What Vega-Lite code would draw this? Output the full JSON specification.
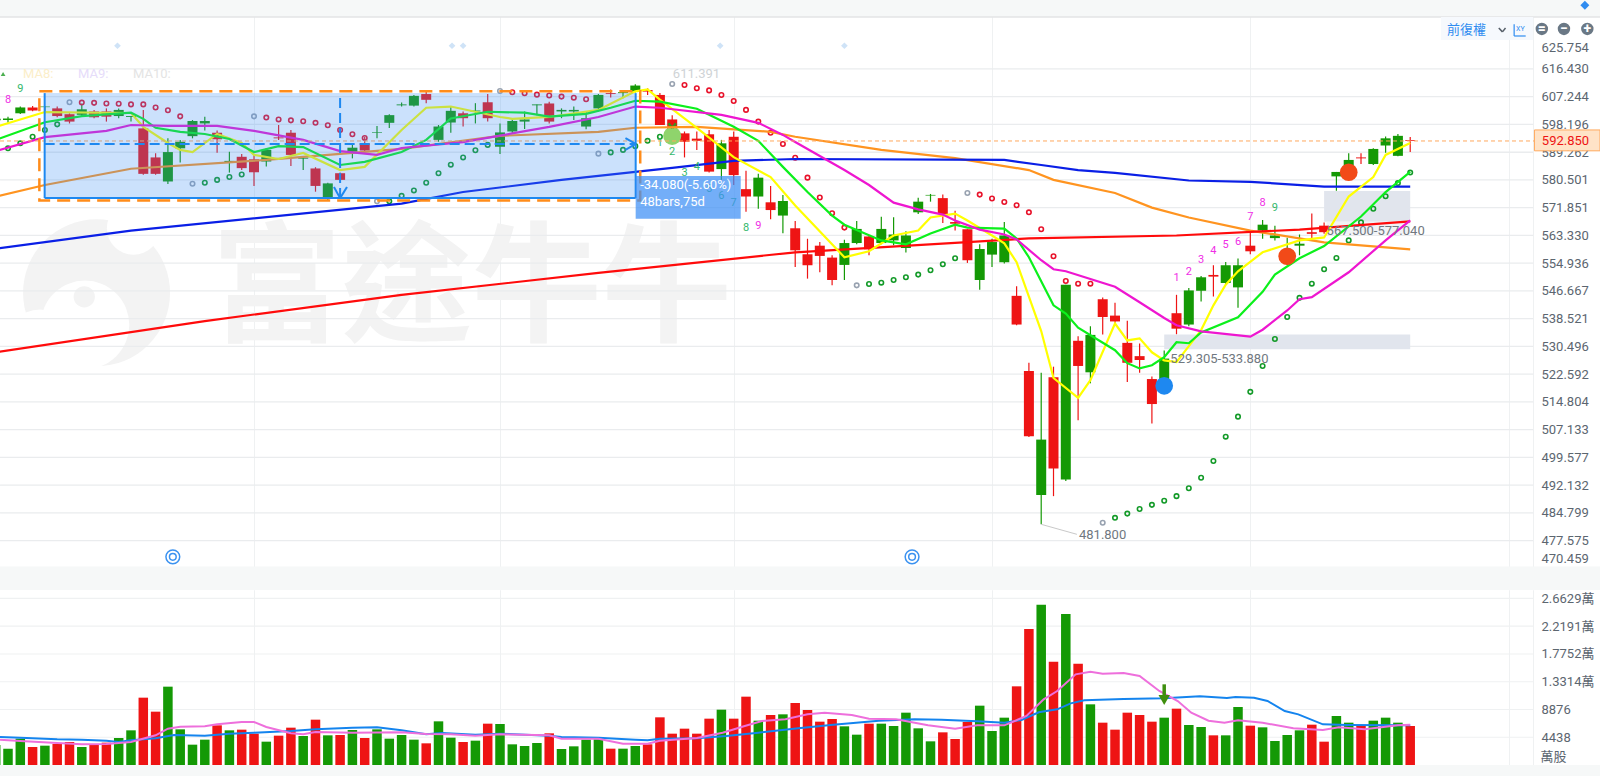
{"$schema":"https://vega.github.io/schema/vega-lite/v6.json","padding":0,"spacing":0,"background":"#ffffff","config":{"view":{"stroke":null},"text":{"font":"Roboto"},"axis":{"labelFont":"Roboto, 'Noto Sans CJK TC'"}},
"datasets":{
"candles":[
{"i":-1,"dir":"G","open":599.5,"high":600.5,"low":599,"close":600,"volume":3198},
{"i":0,"dir":"G","open":599.6,"high":600.7,"low":598.7,"close":600.1,"volume":2612},
{"i":1,"dir":"G","open":601.8,"high":604,"low":601.6,"close":603.7,"volume":4211},
{"i":2,"dir":"R","open":603.7,"high":604.2,"low":602.5,"close":602.7,"volume":2878},
{"i":3,"dir":"G","open":603.8,"high":604.2,"low":601.8,"close":604,"volume":3091},
{"i":4,"dir":"R","open":603.4,"high":604,"low":600.5,"close":600.9,"volume":3358},
{"i":5,"dir":"R","open":601.5,"high":601.8,"low":598.5,"close":599.1,"volume":3678},
{"i":6,"dir":"G","open":601.3,"high":605,"low":600.7,"close":603.1,"volume":2878},
{"i":7,"dir":"R","open":602.4,"high":602.9,"low":600.2,"close":600.5,"volume":3198},
{"i":8,"dir":"R","open":602.4,"high":603.4,"low":599.1,"close":600.7,"volume":3571},
{"i":9,"dir":"G","open":600.9,"high":603.4,"low":600.2,"close":602.9,"volume":4317},
{"i":10,"dir":"G","open":600.6,"high":600.9,"low":599.1,"close":600.9,"volume":5543},
{"i":11,"dir":"R","open":596.9,"high":602.9,"low":582.1,"close":582.4,"volume":10767},
{"i":12,"dir":"R","open":587.6,"high":588.9,"low":582.1,"close":582.4,"volume":8528},
{"i":13,"dir":"G","open":580,"high":593.7,"low":579.2,"close":589.3,"volume":12526},
{"i":14,"dir":"G","open":590.5,"high":593.2,"low":586,"close":592.6,"volume":5703},
{"i":15,"dir":"G","open":594.4,"high":599.6,"low":593.7,"close":599.3,"volume":3251},
{"i":16,"dir":"G","open":598.5,"high":600.7,"low":596.2,"close":599.3,"volume":4051},
{"i":17,"dir":"R","open":595.5,"high":596.2,"low":589.1,"close":593.4,"volume":6343},
{"i":18,"dir":"G","open":586.1,"high":589.4,"low":582.8,"close":586.5,"volume":5543},
{"i":19,"dir":"R","open":587.8,"high":588.7,"low":583.6,"close":584.2,"volume":5650},
{"i":20,"dir":"R","open":587,"high":588.7,"low":578.6,"close":582.9,"volume":5010},
{"i":21,"dir":"G","open":586.3,"high":590.5,"low":584.7,"close":590,"volume":3731},
{"i":22,"dir":"R","open":594,"high":598,"low":593.2,"close":593.7,"volume":4690},
{"i":23,"dir":"R","open":595.5,"high":596.4,"low":584.9,"close":588.4,"volume":5970},
{"i":24,"dir":"G","open":587.2,"high":587.8,"low":583.6,"close":587.5,"volume":4637},
{"i":25,"dir":"R","open":584.1,"high":584.5,"low":576.8,"close":578.6,"volume":7249},
{"i":26,"dir":"G","open":574.8,"high":579.6,"low":574.2,"close":579.4,"volume":4744},
{"i":27,"dir":"R","open":582.6,"high":582.8,"low":580.3,"close":580.5,"volume":4797},
{"i":28,"dir":"G","open":589.4,"high":591.9,"low":587.3,"close":590.7,"volume":5597},
{"i":29,"dir":"R","open":592.1,"high":594.2,"low":589.4,"close":589.8,"volume":4317},
{"i":30,"dir":"G","open":595.5,"high":597.7,"low":593.7,"close":595.7,"volume":5703},
{"i":31,"dir":"G","open":598.7,"high":601.5,"low":597,"close":601.2,"volume":4211},
{"i":32,"dir":"G","open":604.4,"high":605.3,"low":604,"close":604.7,"volume":4797},
{"i":33,"dir":"G","open":604.3,"high":607.8,"low":604,"close":607.5,"volume":4051},
{"i":34,"dir":"R","open":608.1,"high":608.9,"low":605.1,"close":606.2,"volume":3465},
{"i":35,"dir":"G","open":593.2,"high":598,"low":592.6,"close":597.5,"volume":6982},
{"i":36,"dir":"G","open":598.8,"high":604,"low":595.5,"close":602.6,"volume":4371},
{"i":37,"dir":"R","open":601.8,"high":602.4,"low":597.5,"close":600.2,"volume":3678},
{"i":38,"dir":"G","open":602.4,"high":605.1,"low":598.5,"close":602.7,"volume":3891},
{"i":39,"dir":"R","open":605.4,"high":608.1,"low":599.1,"close":600.2,"volume":6609},
{"i":40,"dir":"G","open":591,"high":598.5,"low":588.7,"close":595.6,"volume":6556},
{"i":41,"dir":"G","open":595.9,"high":599.8,"low":595.3,"close":599.3,"volume":3305},
{"i":42,"dir":"G","open":599.1,"high":602.4,"low":596.7,"close":599.8,"volume":3038},
{"i":43,"dir":"G","open":604.4,"high":604.7,"low":601.2,"close":604.7,"volume":3518},
{"i":44,"dir":"R","open":605,"high":605.6,"low":598.5,"close":599.1,"volume":5064},
{"i":45,"dir":"G","open":602.4,"high":603.4,"low":600.2,"close":602.9,"volume":2558},
{"i":46,"dir":"G","open":602.4,"high":604,"low":599.6,"close":602.9,"volume":2985},
{"i":47,"dir":"G","open":597.5,"high":602.4,"low":596.6,"close":600.2,"volume":4051},
{"i":48,"dir":"G","open":603.4,"high":608.1,"low":602.4,"close":607.8,"volume":4104},
{"i":49,"dir":"R","open":608.4,"high":609.6,"low":607,"close":608.1,"volume":2612},
{"i":50,"dir":"G","open":608.4,"high":609.2,"low":606.7,"close":608.7,"volume":2612},
{"i":51,"dir":"G","open":608.9,"high":611.3,"low":608.6,"close":610.9,"volume":3038},
{"i":52,"dir":"R","open":609.4,"high":610,"low":607.8,"close":608.9,"volume":3305},
{"i":53,"dir":"R","open":607.8,"high":608.4,"low":598,"close":598,"volume":7622},
{"i":54,"dir":"R","open":599.8,"high":601.2,"low":594.2,"close":594.7,"volume":5010},
{"i":55,"dir":"R","open":595.3,"high":595.9,"low":587.6,"close":592.6,"volume":5810},
{"i":56,"dir":"R","open":593.6,"high":595.9,"low":590,"close":592.9,"volume":5010},
{"i":57,"dir":"R","open":595,"high":596.4,"low":582.8,"close":583.1,"volume":7409},
{"i":58,"dir":"G","open":583.9,"high":593.2,"low":580.5,"close":592.1,"volume":8848},
{"i":59,"dir":"R","open":594.2,"high":595.9,"low":578.9,"close":582,"volume":7409},
{"i":60,"dir":"R","open":577.6,"high":583.4,"low":570.6,"close":575.3,"volume":10927},
{"i":61,"dir":"G","open":575.3,"high":582.4,"low":571.5,"close":581.2,"volume":7089},
{"i":62,"dir":"R","open":573.5,"high":578.6,"low":568.3,"close":571.1,"volume":7995},
{"i":63,"dir":"G","open":569.4,"high":575.8,"low":564,"close":573.9,"volume":8102},
{"i":64,"dir":"R","open":565.5,"high":567.7,"low":553.8,"close":558.8,"volume":9914},
{"i":65,"dir":"R","open":557.6,"high":562.3,"low":550.3,"close":554.3,"volume":8795},
{"i":66,"dir":"R","open":560.2,"high":561.3,"low":552.2,"close":557.1,"volume":6929},
{"i":67,"dir":"R","open":556.6,"high":557.3,"low":548.3,"close":549.9,"volume":7355},
{"i":68,"dir":"G","open":554.4,"high":562,"low":549.9,"close":561,"volume":6183},
{"i":69,"dir":"G","open":561,"high":567.7,"low":560.6,"close":565.3,"volume":4850},
{"i":70,"dir":"R","open":563,"high":563.3,"low":557.3,"close":559.1,"volume":6609},
{"i":71,"dir":"G","open":561,"high":569,"low":560.6,"close":565.3,"volume":6609},
{"i":72,"dir":"G","open":561.8,"high":568.9,"low":560.3,"close":563.6,"volume":6236},
{"i":73,"dir":"G","open":559.5,"high":564.6,"low":558.1,"close":563.3,"volume":8368},
{"i":74,"dir":"G","open":570.4,"high":574.9,"low":569.9,"close":573.7,"volume":5863},
{"i":75,"dir":"G","open":575.6,"high":576.1,"low":573.7,"close":575.8,"volume":3784},
{"i":76,"dir":"R","open":574.8,"high":575.9,"low":567.1,"close":569.9,"volume":5223},
{"i":77,"dir":"R","open":567.4,"high":570.9,"low":564.8,"close":566.9,"volume":4157},
{"i":78,"dir":"R","open":565.2,"high":565.2,"low":555,"close":555.8,"volume":6876},
{"i":79,"dir":"G","open":549.9,"high":560.6,"low":547,"close":559.2,"volume":9487},
{"i":80,"dir":"G","open":557.5,"high":562.3,"low":553.8,"close":561.3,"volume":5437},
{"i":81,"dir":"G","open":555.2,"high":567.4,"low":554.8,"close":563.3,"volume":7569},
{"i":82,"dir":"R","open":545.2,"high":548,"low":536.6,"close":536.8,"volume":12579},
{"i":83,"dir":"R","open":523.5,"high":525.8,"low":505.1,"close":505.3,"volume":21746},
{"i":84,"dir":"G","open":489.5,"high":523,"low":481.8,"close":504.4,"volume":25637},
{"i":85,"dir":"R","open":521.7,"high":524.7,"low":489.2,"close":496.6,"volume":16523},
{"i":86,"dir":"G","open":493.6,"high":548.5,"low":493.2,"close":548.5,"volume":24145},
{"i":87,"dir":"R","open":532.1,"high":533.4,"low":509.7,"close":524.9,"volume":16203},
{"i":88,"dir":"G","open":523.1,"high":536.3,"low":520,"close":533.8,"volume":9701},
{"i":89,"dir":"R","open":544.2,"high":544.7,"low":533.9,"close":539,"volume":6769},
{"i":90,"dir":"R","open":539.4,"high":543.2,"low":537.2,"close":537.7,"volume":5650},
{"i":91,"dir":"R","open":531.5,"high":537.9,"low":520.4,"close":525.8,"volume":8368},
{"i":92,"dir":"R","open":527.7,"high":531.3,"low":523,"close":526.6,"volume":7995},
{"i":93,"dir":"R","open":521.2,"high":521.9,"low":508.8,"close":514.2,"volume":6929},
{"i":94,"dir":"G","open":519,"high":529.3,"low":519,"close":527,"volume":7569},
{"i":95,"dir":"R","open":540.1,"high":545.5,"low":534,"close":535.6,"volume":9008},
{"i":96,"dir":"G","open":536.8,"high":547.5,"low":536.3,"close":546.8,"volume":6396},
{"i":97,"dir":"G","open":546.7,"high":551.1,"low":543.5,"close":550.7,"volume":6076},
{"i":98,"dir":"R","open":551.4,"high":554.3,"low":545,"close":550.9,"volume":4744},
{"i":99,"dir":"G","open":549,"high":555.3,"low":548.5,"close":554.3,"volume":4744},
{"i":100,"dir":"G","open":547.7,"high":556.3,"low":541.7,"close":554.3,"volume":9274},
{"i":101,"dir":"R","open":560.2,"high":564.3,"low":557.6,"close":558.5,"volume":6289},
{"i":102,"dir":"G","open":564.8,"high":568,"low":562.3,"close":566.6,"volume":6023},
{"i":103,"dir":"G","open":562.5,"high":566.3,"low":561.8,"close":563.3,"volume":3838},
{"i":104,"dir":"G","open":557.8,"high":562.6,"low":554.3,"close":558.6,"volume":4797},
{"i":105,"dir":"G","open":560.2,"high":563.6,"low":557.3,"close":560.8,"volume":5543},
{"i":106,"dir":"R","open":564.3,"high":570,"low":561.8,"close":563.8,"volume":6449},
{"i":107,"dir":"R","open":566.3,"high":567.3,"low":563.8,"close":564.3,"volume":3731},
{"i":108,"dir":"G","open":581.6,"high":583,"low":577.1,"close":583,"volume":7835},
{"i":109,"dir":"G","open":582.6,"high":588.9,"low":582.1,"close":586.8,"volume":6769},
{"i":110,"dir":"R","open":587.6,"high":588.9,"low":585.5,"close":587.3,"volume":6343},
{"i":111,"dir":"G","open":585.5,"high":590.5,"low":585.2,"close":590.3,"volume":7089},
{"i":112,"dir":"G","open":591.4,"high":594.3,"low":589.1,"close":593.7,"volume":7569},
{"i":113,"dir":"G","open":588.1,"high":595.1,"low":588,"close":594.5,"volume":6769},
{"i":114,"dir":"R","open":593.1,"high":594.1,"low":589.3,"close":592.85,"volume":6236}
],
"mas":[
{"s":"orange","i":-1,"p":575.3},{"s":"orange","i":3,"p":578.9},{"s":"orange","i":10,"p":584},{"s":"orange","i":21,"p":586.8},{"s":"orange","i":32,"p":590.3},{"s":"orange","i":40,"p":594.5},{"s":"orange","i":48,"p":595.8},{"s":"orange","i":51,"p":597.1},{"s":"orange","i":56,"p":597.4},{"s":"orange","i":62,"p":595.8},{"s":"orange","i":64,"p":594.2},{"s":"orange","i":71,"p":590},{"s":"orange","i":77,"p":587.4},{"s":"orange","i":83,"p":583.6},{"s":"orange","i":85,"p":580.5},{"s":"orange","i":90,"p":576.4},{"s":"orange","i":93,"p":571.85},{"s":"orange","i":96,"p":568.8},{"s":"orange","i":101,"p":564.8},{"s":"orange","i":107,"p":561.2},{"s":"orange","i":114,"p":559.1},
{"s":"blue","i":-1,"p":559.3},{"s":"blue","i":10,"p":564.8},{"s":"blue","i":32,"p":573.1},{"s":"blue","i":37,"p":576.7},{"s":"blue","i":45,"p":580.5},{"s":"blue","i":54,"p":584.3},{"s":"blue","i":59,"p":586.5},{"s":"blue","i":64,"p":587.1},{"s":"blue","i":81,"p":586.8},{"s":"blue","i":84,"p":585.2},{"s":"blue","i":87,"p":583.6},{"s":"blue","i":90,"p":582.7},{"s":"blue","i":96,"p":580.3},{"s":"blue","i":101,"p":579.9},{"s":"blue","i":107,"p":578.4},{"s":"blue","i":114,"p":578.4},
{"s":"red","i":-1,"p":528.8},{"s":"red","i":16,"p":537.8},{"s":"red","i":32,"p":545.5},{"s":"red","i":48,"p":552},{"s":"red","i":64,"p":558.2},{"s":"red","i":83,"p":562.4},{"s":"red","i":95,"p":563.3},{"s":"red","i":105,"p":565.1},{"s":"red","i":114,"p":567.6},
{"s":"yellow","i":-1,"p":597.4},{"s":"yellow","i":3,"p":602.2},{"s":"yellow","i":10,"p":601.9},{"s":"yellow","i":11,"p":597.4},{"s":"yellow","i":13,"p":592.2},{"s":"yellow","i":14,"p":590},{"s":"yellow","i":15,"p":589.3},{"s":"yellow","i":17,"p":595.1},{"s":"yellow","i":19,"p":592.2},{"s":"yellow","i":20,"p":588.4},{"s":"yellow","i":22,"p":587.1},{"s":"yellow","i":24,"p":589},{"s":"yellow","i":27,"p":583.6},{"s":"yellow","i":29,"p":584.6},{"s":"yellow","i":32,"p":596.4},{"s":"yellow","i":34,"p":603.6},{"s":"yellow","i":36,"p":604},{"s":"yellow","i":40,"p":600.6},{"s":"yellow","i":41,"p":600},{"s":"yellow","i":44,"p":600.6},{"s":"yellow","i":48,"p":602.9},{"s":"yellow","i":51,"p":609},{"s":"yellow","i":52,"p":609.6},{"s":"yellow","i":53,"p":606.3},{"s":"yellow","i":56,"p":597.1},{"s":"yellow","i":59,"p":587.7},{"s":"yellow","i":62,"p":581.4},{"s":"yellow","i":64,"p":572.5},{"s":"yellow","i":68,"p":556.7},{"s":"yellow","i":70,"p":558.5},{"s":"yellow","i":72,"p":563.3},{"s":"yellow","i":74,"p":564.8},{"s":"yellow","i":75,"p":568.8},{"s":"yellow","i":77,"p":570},{"s":"yellow","i":78,"p":567.9},{"s":"yellow","i":80,"p":563.3},{"s":"yellow","i":81,"p":560.9},{"s":"yellow","i":82,"p":555.2},{"s":"yellow","i":84,"p":534.9},{"s":"yellow","i":85,"p":521.5},{"s":"yellow","i":87,"p":515.9},{"s":"yellow","i":88,"p":520.9},{"s":"yellow","i":90,"p":537.1},{"s":"yellow","i":91,"p":532.2},{"s":"yellow","i":92,"p":532.8},{"s":"yellow","i":93,"p":528.8},{"s":"yellow","i":94,"p":526.5},{"s":"yellow","i":95,"p":526},{"s":"yellow","i":97,"p":535.2},{"s":"yellow","i":98,"p":542.4},{"s":"yellow","i":99,"p":548.5},{"s":"yellow","i":100,"p":552.5},{"s":"yellow","i":102,"p":558.2},{"s":"yellow","i":105,"p":561.8},{"s":"yellow","i":107,"p":562.7},{"s":"yellow","i":109,"p":575.3},{"s":"yellow","i":111,"p":581.4},{"s":"yellow","i":112,"p":588.4},{"s":"yellow","i":114,"p":592.2},
{"s":"green","i":-1,"p":593.2},{"s":"green","i":3,"p":598.9},{"s":"green","i":6,"p":600.9},{"s":"green","i":10,"p":602},{"s":"green","i":11,"p":600},{"s":"green","i":12,"p":597.1},{"s":"green","i":14,"p":595.8},{"s":"green","i":16,"p":595.1},{"s":"green","i":18,"p":593.5},{"s":"green","i":20,"p":589.3},{"s":"green","i":22,"p":591.2},{"s":"green","i":24,"p":590.9},{"s":"green","i":27,"p":585.2},{"s":"green","i":29,"p":586.2},{"s":"green","i":32,"p":589.3},{"s":"green","i":34,"p":593.2},{"s":"green","i":36,"p":600.1},{"s":"green","i":39,"p":602.3},{"s":"green","i":42,"p":602},{"s":"green","i":44,"p":600.7},{"s":"green","i":47,"p":601.6},{"s":"green","i":49,"p":603.6},{"s":"green","i":51,"p":605.9},{"s":"green","i":53,"p":605.6},{"s":"green","i":56,"p":603.3},{"s":"green","i":59,"p":597.4},{"s":"green","i":61,"p":592.9},{"s":"green","i":63,"p":584.6},{"s":"green","i":65,"p":576.7},{"s":"green","i":67,"p":569.4},{"s":"green","i":68,"p":566.6},{"s":"green","i":71,"p":561.8},{"s":"green","i":73,"p":560.6},{"s":"green","i":75,"p":563.9},{"s":"green","i":77,"p":566.6},{"s":"green","i":78,"p":565.7},{"s":"green","i":81,"p":565.4},{"s":"green","i":82,"p":562.4},{"s":"green","i":83,"p":556.7},{"s":"green","i":85,"p":542.4},{"s":"green","i":86,"p":540},{"s":"green","i":87,"p":535.9},{"s":"green","i":90,"p":529.4},{"s":"green","i":91,"p":525.7},{"s":"green","i":92,"p":524.2},{"s":"green","i":93,"p":525.1},{"s":"green","i":94,"p":527.4},{"s":"green","i":95,"p":531.7},{"s":"green","i":96,"p":531.4},{"s":"green","i":97,"p":534.5},{"s":"green","i":100,"p":538.9},{"s":"green","i":102,"p":546.4},{"s":"green","i":103,"p":551.5},{"s":"green","i":105,"p":556.4},{"s":"green","i":107,"p":560.1},{"s":"green","i":110,"p":569.1},{"s":"green","i":112,"p":576.7},{"s":"green","i":114,"p":583},
{"s":"magenta","i":-1,"p":589.6},{"s":"magenta","i":3,"p":594.1},{"s":"magenta","i":8,"p":596.1},{"s":"magenta","i":10,"p":598},{"s":"magenta","i":13,"p":597.7},{"s":"magenta","i":17,"p":597.7},{"s":"magenta","i":20,"p":596.1},{"s":"magenta","i":24,"p":593.2},{"s":"magenta","i":27,"p":589.6},{"s":"magenta","i":30,"p":588.4},{"s":"magenta","i":32,"p":590.6},{"s":"magenta","i":37,"p":592.5},{"s":"magenta","i":44,"p":597.4},{"s":"magenta","i":48,"p":600.6},{"s":"magenta","i":51,"p":604},{"s":"magenta","i":53,"p":603.6},{"s":"magenta","i":58,"p":601.3},{"s":"magenta","i":61,"p":598.7},{"s":"magenta","i":63,"p":594.8},{"s":"magenta","i":64,"p":592.5},{"s":"magenta","i":68,"p":583.6},{"s":"magenta","i":70,"p":578.9},{"s":"magenta","i":72,"p":573.4},{"s":"magenta","i":74,"p":571.3},{"s":"magenta","i":76,"p":569.7},{"s":"magenta","i":77,"p":567.9},{"s":"magenta","i":79,"p":565.1},{"s":"magenta","i":81,"p":563.6},{"s":"magenta","i":82,"p":562.1},{"s":"magenta","i":84,"p":555.8},{"s":"magenta","i":85,"p":553.1},{"s":"magenta","i":86,"p":552.5},{"s":"magenta","i":90,"p":547.9},{"s":"magenta","i":92,"p":543.3},{"s":"magenta","i":94,"p":538.7},{"s":"magenta","i":95,"p":536.6},{"s":"magenta","i":97,"p":534.8},{"s":"magenta","i":101,"p":533.3},{"s":"magenta","i":102,"p":535.3},{"s":"magenta","i":104,"p":540.9},{"s":"magenta","i":105,"p":544.2},{"s":"magenta","i":106,"p":544.8},{"s":"magenta","i":109,"p":552.2},{"s":"magenta","i":112,"p":561.8},{"s":"magenta","i":114,"p":567.9}
],
"sar":[
{"i":0,"k":"G","p":590.5},{"i":1,"k":"G","p":592.1},{"i":2,"k":"G","p":594.2},{"i":3,"k":"G","p":596.4},{"i":4,"k":"G","p":598.2},{"i":5,"k":"N","p":605.4},{"i":6,"k":"R","p":605.3},{"i":7,"k":"R","p":605.2},{"i":8,"k":"R","p":605},{"i":9,"k":"R","p":604.9},{"i":10,"k":"R","p":604.7},{"i":11,"k":"R","p":604.7},{"i":12,"k":"R","p":603.7},{"i":13,"k":"R","p":602.8},{"i":14,"k":"R","p":600.8},{"i":15,"k":"N","p":579.3},{"i":16,"k":"G","p":579.6},{"i":17,"k":"G","p":580.5},{"i":18,"k":"G","p":581.4},{"i":19,"k":"G","p":582.2},{"i":20,"k":"N","p":600.8},{"i":21,"k":"R","p":600.4},{"i":22,"k":"R","p":599.8},{"i":23,"k":"R","p":599.5},{"i":24,"k":"R","p":599.2},{"i":25,"k":"R","p":598.7},{"i":26,"k":"R","p":597.9},{"i":27,"k":"R","p":596.4},{"i":28,"k":"R","p":595},{"i":29,"k":"R","p":593.8},{"i":30,"k":"N","p":573.8},{"i":31,"k":"G","p":573.8},{"i":32,"k":"G","p":575.5},{"i":33,"k":"G","p":577.2},{"i":34,"k":"G","p":579.6},{"i":35,"k":"G","p":582.6},{"i":36,"k":"G","p":585.3},{"i":37,"k":"G","p":587.6},{"i":38,"k":"G","p":589.9},{"i":39,"k":"G","p":591.6},{"i":40,"k":"N","p":609.1},{"i":41,"k":"R","p":608.7},{"i":42,"k":"R","p":608.35},{"i":43,"k":"R","p":607.9},{"i":44,"k":"R","p":607.6},{"i":45,"k":"R","p":607.25},{"i":46,"k":"R","p":606.9},{"i":47,"k":"R","p":606.4},{"i":48,"k":"N","p":588.8},{"i":49,"k":"G","p":589.2},{"i":50,"k":"G","p":590},{"i":51,"k":"G","p":591.2},{"i":52,"k":"G","p":592.9},{"i":53,"k":"G","p":594.2},{"i":54,"k":"N","p":611.4},{"i":55,"k":"R","p":611.1},{"i":56,"k":"R","p":610},{"i":57,"k":"R","p":609.3},{"i":58,"k":"R","p":607.8},{"i":59,"k":"R","p":605.8},{"i":60,"k":"R","p":602.9},{"i":61,"k":"R","p":599.1},{"i":62,"k":"R","p":595.5},{"i":63,"k":"R","p":591.9},{"i":64,"k":"R","p":587.5},{"i":65,"k":"R","p":581.2},{"i":66,"k":"R","p":575},{"i":67,"k":"R","p":570.1},{"i":68,"k":"R","p":565.7},{"i":69,"k":"N","p":548.3},{"i":70,"k":"G","p":548.7},{"i":71,"k":"G","p":549.1},{"i":72,"k":"G","p":549.9},{"i":73,"k":"G","p":550.7},{"i":74,"k":"G","p":551.5},{"i":75,"k":"G","p":552.8},{"i":76,"k":"G","p":554.6},{"i":77,"k":"G","p":556.4},{"i":78,"k":"N","p":576.4},{"i":79,"k":"R","p":575.9},{"i":80,"k":"R","p":574.7},{"i":81,"k":"R","p":573.6},{"i":82,"k":"R","p":572.6},{"i":83,"k":"R","p":570.4},{"i":84,"k":"R","p":565.2},{"i":85,"k":"R","p":557},{"i":86,"k":"R","p":549.6},{"i":87,"k":"R","p":548.8},{"i":88,"k":"R","p":548.8},{"i":89,"k":"N","p":482.2},{"i":90,"k":"G","p":483.5},{"i":91,"k":"G","p":484.6},{"i":92,"k":"G","p":485.8},{"i":93,"k":"G","p":486.9},{"i":94,"k":"G","p":488},{"i":95,"k":"G","p":489.2},{"i":96,"k":"G","p":491.3},{"i":97,"k":"G","p":494.1},{"i":98,"k":"G","p":498.6},{"i":99,"k":"G","p":505.2},{"i":100,"k":"G","p":510.7},{"i":101,"k":"G","p":517.6},{"i":102,"k":"G","p":524.9},{"i":103,"k":"G","p":532.6},{"i":104,"k":"G","p":539},{"i":105,"k":"G","p":544.6},{"i":106,"k":"G","p":548.8},{"i":107,"k":"G","p":553.1},{"i":108,"k":"G","p":556.5},{"i":109,"k":"G","p":561.8},{"i":110,"k":"G","p":567.3},{"i":111,"k":"G","p":571.5},{"i":112,"k":"G","p":575.4},{"i":113,"k":"G","p":579.5},{"i":114,"k":"G","p":582.8}
],
"td":[
{"i":0,"n":"8","k":"M","p":606},{"i":1,"n":"9","k":"G","p":609.8},
{"i":53,"n":"1","k":"G","p":592.1},{"i":54,"n":"2","k":"G","p":589.4},{"i":55,"n":"3","k":"G","p":582.8},{"i":56,"n":"4","k":"G","p":584.7},{"i":57,"n":"5","k":"G","p":577.6},{"i":58,"n":"6","k":"G","p":575.5},{"i":59,"n":"7","k":"G","p":573.2},{"i":60,"n":"8","k":"G","p":565.5},{"i":61,"n":"9","k":"M","p":566.3},
{"i":95,"n":"1","k":"M","p":550.6},{"i":96,"n":"2","k":"M","p":552.4},{"i":97,"n":"3","k":"M","p":556},{"i":98,"n":"4","k":"M","p":558.5},{"i":99,"n":"5","k":"M","p":560.3},{"i":100,"n":"6","k":"M","p":561.3},{"i":101,"n":"7","k":"M","p":569.1},{"i":102,"n":"8","k":"M","p":573.3},{"i":103,"n":"9","k":"G","p":571.6}
],
"volma":[
{"s":"blue","i":-0.65,"v":4477},{"s":"blue","i":1,"v":4371},{"s":"blue","i":4,"v":4104},{"s":"blue","i":6,"v":4051},{"s":"blue","i":8,"v":3891},{"s":"blue","i":9,"v":3678},{"s":"blue","i":10,"v":3944},{"s":"blue","i":12,"v":4264},{"s":"blue","i":13.5,"v":4797},{"s":"blue","i":16,"v":4690},{"s":"blue","i":18,"v":5010},{"s":"blue","i":20,"v":5170},{"s":"blue","i":23,"v":5437},{"s":"blue","i":25,"v":5703},{"s":"blue","i":28,"v":5970},{"s":"blue","i":30,"v":6023},{"s":"blue","i":32,"v":5543},{"s":"blue","i":34,"v":4904},{"s":"blue","i":35.3,"v":5117},{"s":"blue","i":38,"v":4850},{"s":"blue","i":40,"v":5010},{"s":"blue","i":44,"v":4690},{"s":"blue","i":45,"v":4477},{"s":"blue","i":48,"v":4371},{"s":"blue","i":51,"v":4051},{"s":"blue","i":52,"v":3944},{"s":"blue","i":53,"v":4211},{"s":"blue","i":56,"v":4264},{"s":"blue","i":58.4,"v":4637},{"s":"blue","i":61,"v":5170},{"s":"blue","i":64.25,"v":5863},{"s":"blue","i":67.1,"v":6449},{"s":"blue","i":70.8,"v":7089},{"s":"blue","i":73.7,"v":7302},{"s":"blue","i":75.9,"v":7249},{"s":"blue","i":78.8,"v":6982},{"s":"blue","i":81,"v":6769},{"s":"blue","i":82.4,"v":7196},{"s":"blue","i":83.8,"v":8421},{"s":"blue","i":85.3,"v":8901},{"s":"blue","i":86.4,"v":9861},{"s":"blue","i":87.5,"v":10340},{"s":"blue","i":90.7,"v":10553},{"s":"blue","i":94,"v":10660},{"s":"blue","i":96.9,"v":10980},{"s":"blue","i":99.1,"v":10713},{"s":"blue","i":99.8,"v":10873},{"s":"blue","i":101.3,"v":10767},{"s":"blue","i":102.4,"v":10234},{"s":"blue","i":103.8,"v":8635},{"s":"blue","i":104.9,"v":8102},{"s":"blue","i":106.9,"v":6503},{"s":"blue","i":108.9,"v":6396},{"s":"blue","i":113,"v":6343},{"s":"blue","i":114,"v":6343},
{"s":"pink","i":-0.65,"v":4051},{"s":"pink","i":1,"v":3838},{"s":"pink","i":4,"v":3518},{"s":"pink","i":6,"v":3305},{"s":"pink","i":8,"v":3358},{"s":"pink","i":10,"v":3678},{"s":"pink","i":12,"v":4744},{"s":"pink","i":13,"v":5810},{"s":"pink","i":14,"v":6130},{"s":"pink","i":16,"v":6183},{"s":"pink","i":17,"v":6503},{"s":"pink","i":19,"v":6876},{"s":"pink","i":20,"v":6876},{"s":"pink","i":21,"v":6076},{"s":"pink","i":23,"v":5064},{"s":"pink","i":24,"v":4904},{"s":"pink","i":25,"v":5277},{"s":"pink","i":28,"v":5170},{"s":"pink","i":32,"v":5223},{"s":"pink","i":34,"v":4957},{"s":"pink","i":36,"v":4904},{"s":"pink","i":38,"v":4690},{"s":"pink","i":40,"v":4904},{"s":"pink","i":44,"v":4744},{"s":"pink","i":45,"v":4211},{"s":"pink","i":48,"v":4211},{"s":"pink","i":50,"v":3411},{"s":"pink","i":52,"v":3411},{"s":"pink","i":53,"v":3891},{"s":"pink","i":56,"v":4317},{"s":"pink","i":58.1,"v":5170},{"s":"pink","i":59.9,"v":6236},{"s":"pink","i":61.3,"v":7036},{"s":"pink","i":63.2,"v":7302},{"s":"pink","i":65,"v":8102},{"s":"pink","i":66.4,"v":8368},{"s":"pink","i":68.6,"v":7995},{"s":"pink","i":70,"v":7409},{"s":"pink","i":72.2,"v":7302},{"s":"pink","i":74.8,"v":6343},{"s":"pink","i":77,"v":5810},{"s":"pink","i":78.8,"v":6343},{"s":"pink","i":81,"v":6343},{"s":"pink","i":82.8,"v":7835},{"s":"pink","i":84.2,"v":10500},{"s":"pink","i":85.3,"v":11833},{"s":"pink","i":86.8,"v":14498},{"s":"pink","i":88,"v":14924},{"s":"pink","i":89,"v":14604},{"s":"pink","i":90.7,"v":14711},{"s":"pink","i":92,"v":14231},{"s":"pink","i":93.6,"v":11833},{"s":"pink","i":95.1,"v":10234},{"s":"pink","i":96.2,"v":8368},{"s":"pink","i":97.6,"v":7089},{"s":"pink","i":98.9,"v":6769},{"s":"pink","i":100,"v":7142},{"s":"pink","i":102,"v":6769},{"s":"pink","i":104.5,"v":5863},{"s":"pink","i":106.9,"v":5597},{"s":"pink","i":108.2,"v":6023},{"s":"pink","i":110.3,"v":5703},{"s":"pink","i":113,"v":6343},{"s":"pink","i":114,"v":6449}
]
},
"vconcat":[
{"width":1600,"height":590,
"encoding":{"x":{"field":"i","type":"quantitative","scale":{"domain":[-0.6504,129.43],"nice":false,"zero":false,"padding":0},"axis":{"values":[20,40,59,80,101,122,124],"grid":true,"gridColor":"#eff1f2","gridWidth":1,"labels":false,"ticks":false,"domain":false,"title":null}}},
"resolve":{"scale":{"color":"independent"}},
"layer":[
{"data":{"values":[{"i":7.2,"p":546.1}]},"mark":{"type":"point","shape":"circle","filled":true,"size":21600,"color":"#f3f3f3","opacity":1,"clip":true},"encoding":{"y":{"field":"p","type":"quantitative","scale":{"type":"log","domain":[464.98,639.84],"nice":false,"zero":false},"axis":{"orient":"right","offset":-59,"title":null,"grid":false,"ticks":false,"domain":false,"values":[470.459,477.575,484.799,492.132,499.577,507.133,514.804,522.592,530.496,538.521,546.667,554.936,563.33,571.851,580.501,589.262,598.196,607.244,616.43,625.754],"format":".3f","labelOverlap":false,"labelPadding":0,"labelAlign":"left","labelFontSize":13,"labelColor":"#5c6670","labelBaseline":{"condition":{"test":"datum.value>620","value":"top"},"value":"middle"},"labelOffset":{"condition":{"test":"datum.value<471","value":-10},"value":0}}}}},
{"data":{"values":[{"i":6.26,"p":536.7,"b":7854},{"i":2.6,"p":530.9,"b":5027},{"i":10.2,"p":565.5,"b":2827}]},"mark":{"type":"point","shape":"circle","filled":true,"color":"#ffffff","opacity":1,"clip":true},"encoding":{"y":{"field":"p","type":"quantitative"},"size":{"field":"b","type":"quantitative","scale":null,"legend":null}}},
{"data":{"values":[{"i":6.2,"p":544.9}]},"mark":{"type":"point","shape":"circle","filled":true,"size":452,"color":"#f3f3f3","opacity":1,"clip":true},"encoding":{"y":{"field":"p","type":"quantitative"}}},
{"data":{"values":[{"i":37.7,"p":546.3,"t":"富途牛牛"}]},"mark":{"type":"text","font":"Noto Sans CJK TC","fontWeight":"bold","fontSize":130,"color":"#f3f3f3","align":"center","baseline":"middle","clip":true},"encoding":{"y":{"field":"p","type":"quantitative"},"text":{"field":"t"}}},
{"data":{"values":[{"i":-0.65,"i2":124,"p":616.43},{"i":-0.65,"i2":124,"p":607.244},{"i":-0.65,"i2":124,"p":598.196},{"i":-0.65,"i2":124,"p":589.262},{"i":-0.65,"i2":124,"p":580.501},{"i":-0.65,"i2":124,"p":571.851},{"i":-0.65,"i2":124,"p":563.33},{"i":-0.65,"i2":124,"p":554.936},{"i":-0.65,"i2":124,"p":546.667},{"i":-0.65,"i2":124,"p":538.521},{"i":-0.65,"i2":124,"p":530.496},{"i":-0.65,"i2":124,"p":522.592},{"i":-0.65,"i2":124,"p":514.804},{"i":-0.65,"i2":124,"p":507.133},{"i":-0.65,"i2":124,"p":499.577},{"i":-0.65,"i2":124,"p":492.132},{"i":-0.65,"i2":124,"p":484.799},{"i":-0.65,"i2":124,"p":477.575}]},"mark":{"type":"rule","color":"#eaecee","strokeWidth":1.4,"clip":true},"encoding":{"x2":{"field":"i2"},"y":{"field":"p","type":"quantitative"}}},
{"data":{"values":[{"i":-0.6504,"i2":129.43,"p":634,"p2":639.84},{"i":-0.6504,"i2":129.43,"p":470.9,"p2":464.98}]},"mark":{"type":"rect","color":"#f6f8f8","clip":true},"encoding":{"x2":{"field":"i2"},"y":{"field":"p","type":"quantitative"},"y2":{"field":"p2"}}},
{"data":{"values":[{"i":-0.6504,"i2":129.43,"p":634}]},"mark":{"type":"rule","color":"#e3e5e6","strokeWidth":1.5,"clip":true},"encoding":{"x2":{"field":"i2"},"y":{"field":"p","type":"quantitative"}}},
{"data":{"values":[{"i":116.5,"i2":124,"p":626.1,"p2":634}]},"mark":{"type":"rect","color":"#f6f9fd","clip":true},"encoding":{"x2":{"field":"i2"},"y":{"field":"p","type":"quantitative"},"y2":{"field":"p2"}}},
{"data":{"values":[{"i":94,"i2":114,"p":529.7,"p2":533.88},{"i":107,"i2":114,"p":567.5,"p2":577.04}]},"mark":{"type":"rect","color":"#e1e5ed","clip":true},"encoding":{"x2":{"field":"i2"},"y":{"field":"p","type":"quantitative"},"y2":{"field":"p2"}}},
{"data":{"values":[{"i":107.2,"i2":114,"p":563.7,"p2":567.5}]},"mark":{"type":"rect","color":"#f1f3f6","clip":true},"encoding":{"x2":{"field":"i2"},"y":{"field":"p","type":"quantitative"},"y2":{"field":"p2"}}},
{"data":{"values":[{"i":8.9,"p":624.2},{"i":36.1,"p":624.2},{"i":37,"p":624.2},{"i":57.9,"p":624.2},{"i":68,"p":624.2}]},"mark":{"type":"point","shape":"diamond","filled":true,"size":45,"color":"#cfe3f7","opacity":1,"clip":true},"encoding":{"y":{"field":"p","type":"quantitative"}}},
{"data":{"values":[{"i":1.22,"p":614.7,"t":"MA8:","s":"8"},{"i":5.7,"p":614.7,"t":"MA9:","s":"9"},{"i":10.16,"p":614.7,"t":"MA10:","s":"10"}]},"mark":{"type":"text","fontSize":13,"align":"left","baseline":"middle","clip":true},"encoding":{"y":{"field":"p","type":"quantitative"},"text":{"field":"t"},"color":{"field":"s","type":"nominal","scale":{"domain":["8","9","10"],"range":["#fbeec9","#e6dcfa","#e4e4e4"]},"legend":null}}},
{"data":{"values":[{"i":-0.4,"p":614.7}]},"mark":{"type":"point","shape":"triangle-up","filled":true,"size":22,"color":"#4caf50","opacity":1,"clip":true},"encoding":{"y":{"field":"p","type":"quantitative"}}},
{"data":{"name":"candles"},"mark":{"type":"rule","strokeWidth":1.2,"clip":true},"encoding":{"y":{"field":"high","type":"quantitative"},"y2":{"field":"low"},"color":{"field":"dir","type":"nominal","scale":{"domain":["G","R"],"range":["#149905","#ee1414"]},"legend":null}}},
{"data":{"name":"candles"},"mark":{"type":"bar","size":10,"orient":"vertical","clip":true},"encoding":{"y":{"field":"open","type":"quantitative"},"y2":{"field":"close"},"color":{"field":"dir","type":"nominal","scale":{"domain":["G","R"],"range":["#149905","#ee1414"]},"legend":null}}},
{"data":{"name":"sar"},"mark":{"type":"point","shape":"circle","filled":false,"size":20,"strokeWidth":1.6,"opacity":1,"clip":true},"encoding":{"y":{"field":"p","type":"quantitative"},"color":{"field":"k","type":"nominal","scale":{"domain":["G","R","N"],"range":["#139a28","#e8122a","#98a2b0"]},"legend":null}}},
{"data":{"values":[{"i":54,"p":594.5}]},"mark":{"type":"point","shape":"circle","filled":true,"size":330,"color":"#8fd46c","opacity":1,"clip":true},"encoding":{"y":{"field":"p","type":"quantitative"}}},
{"data":{"values":[{"i":53.7,"i2":54,"p":598.6,"p2":597},{"i":54.3,"i2":54,"p":598.6,"p2":597}]},"mark":{"type":"rule","color":"#3f8f1f","strokeWidth":2.5,"clip":true},"encoding":{"x2":{"field":"i2"},"y":{"field":"p","type":"quantitative"},"y2":{"field":"p2"}}},
{"data":{"name":"mas"},"mark":{"type":"line","clip":true},"encoding":{"y":{"field":"p","type":"quantitative"},"color":{"field":"s","type":"nominal","scale":{"domain":["orange","blue","red","yellow","green","magenta"],"range":["#ff9420","#0a1fe6","#ff0b0b","#ffff00","#0cf01c","#ee16d0"]},"legend":null},"strokeWidth":{"field":"s","type":"nominal","scale":{"domain":["orange","blue","red","yellow","green","magenta"],"range":[2.2,2.2,4,3.6,3.6,3.6]},"legend":null},"order":{"field":"i"}}},
{"data":{"name":"td"},"mark":{"type":"text","fontSize":11,"align":"center","baseline":"middle","clip":true},"encoding":{"y":{"field":"p","type":"quantitative"},"text":{"field":"n"},"color":{"field":"k","type":"nominal","scale":{"domain":["G","M"],"range":["#34b86c","#f02ee6"]},"legend":null}}},
{"data":{"values":[{"i":-0.65,"i2":124.1,"p":592.85}]},"mark":{"type":"rule","color":"#ffa95e","strokeWidth":1,"strokeDash":[4,3],"clip":true},"encoding":{"x2":{"field":"i2"},"y":{"field":"p","type":"quantitative"}}},
{"data":{"values":[{"i":104,"p":557},{"i":109,"p":582.9}]},"mark":{"type":"point","shape":"circle","filled":true,"size":314,"color":"#f24a18","opacity":1,"clip":true},"encoding":{"y":{"field":"p","type":"quantitative"}}},
{"data":{"values":[{"i":94,"p":519.3}]},"mark":{"type":"point","shape":"circle","filled":true,"size":314,"color":"#1e88f0","opacity":1,"clip":true},"encoding":{"y":{"field":"p","type":"quantitative"}}},
{"data":{"values":[{"i":2.98,"i2":51.03,"p":574.8,"p2":608.4}]},"mark":{"type":"rect","color":"#3d8ff5","opacity":0.27,"clip":true},"encoding":{"x2":{"field":"i2"},"y":{"field":"p","type":"quantitative"},"y2":{"field":"p2"}}},
{"data":{"values":[{"i":2.55,"i2":51.4,"p":574.1,"p2":609}]},"mark":{"type":"rect","fillOpacity":0,"stroke":"#ff8c1a","strokeWidth":2.5,"strokeDash":[13,7],"clip":true},"encoding":{"x2":{"field":"i2"},"y":{"field":"p","type":"quantitative"},"y2":{"field":"p2"}}},
{"data":{"values":[{"i":2.98,"i2":2.98,"p":574.8,"p2":608.4},{"i":2.98,"i2":51.03,"p":574.8,"p2":574.8},{"i":51.03,"i2":51.03,"p":574.8,"p2":608.4},{"i":50.2,"i2":51.03,"p":593.8,"p2":591.9},{"i":50.2,"i2":51.03,"p":590,"p2":591.9},{"i":26.5,"i2":27,"p":578.3,"p2":574.8},{"i":27.56,"i2":27,"p":578.3,"p2":574.8}]},"mark":{"type":"rule","color":"#1e88f0","strokeWidth":2,"clip":true},"encoding":{"x2":{"field":"i2"},"y":{"field":"p","type":"quantitative"},"y2":{"field":"p2"}}},
{"data":{"values":[{"i":2.98,"i2":51.03,"p":591.9,"p2":591.9},{"i":27,"i2":27,"p":574.8,"p2":608.4}]},"mark":{"type":"rule","color":"#1e88f0","strokeWidth":2,"strokeDash":[10,5],"clip":true},"encoding":{"x2":{"field":"i2"},"y":{"field":"p","type":"quantitative"},"y2":{"field":"p2"}}},
{"data":{"values":[{"i":51.03,"i2":59.57,"p":568.4,"p2":581.7}]},"mark":{"type":"rect","color":"#3d8ff5","opacity":0.72,"clip":true},"encoding":{"x2":{"field":"i2"},"y":{"field":"p","type":"quantitative"},"y2":{"field":"p2"}}},
{"data":{"values":[{"i":51.4,"p":578.9,"t":"-34.080(-5.60%)"},{"i":51.4,"p":573.6,"t":"48bars,75d"}]},"mark":{"type":"text","fontSize":13,"color":"#ffffff","align":"left","baseline":"middle","clip":true},"encoding":{"y":{"field":"p","type":"quantitative"},"text":{"field":"t"}}},
{"data":{"values":[{"i":84,"i2":86.9,"p":481.8,"p2":479.2}]},"mark":{"type":"rule","color":"#c9c9c9","strokeWidth":1,"clip":true},"encoding":{"x2":{"field":"i2"},"y":{"field":"p","type":"quantitative"},"y2":{"field":"p2"}}},
{"data":{"values":[{"i":87.07,"p":479.1,"t":"481.800"},{"i":94.5,"p":527,"t":"529.305-533.880"},{"i":107.2,"p":564.6,"t":"567.500-577.040"}]},"mark":{"type":"text","fontSize":13,"color":"#707880","align":"left","baseline":"middle","clip":true},"encoding":{"y":{"field":"p","type":"quantitative"},"text":{"field":"t"}}},
{"data":{"values":[{"i":54.05,"p":614.7,"t":"611.391"}]},"mark":{"type":"text","fontSize":13,"color":"#cfd3d6","align":"left","baseline":"middle","clip":true},"encoding":{"y":{"field":"p","type":"quantitative"},"text":{"field":"t"}}},
{"data":{"values":[{"i":13.4,"p":473.4},{"i":73.5,"p":473.4}]},"mark":{"type":"point","shape":"circle","filled":false,"size":190,"strokeWidth":1.5,"color":"#3b92f0","opacity":1,"clip":true},"encoding":{"y":{"field":"p","type":"quantitative"}}},
{"data":{"values":[{"i":13.4,"p":473.4},{"i":73.5,"p":473.4}]},"mark":{"type":"point","shape":"circle","filled":false,"size":45,"strokeWidth":1.5,"color":"#3b92f0","opacity":1,"clip":true},"encoding":{"y":{"field":"p","type":"quantitative"}}},
{"data":{"values":[{"i":124.1,"i2":129.43,"p":589.7,"p2":596.4}]},"mark":{"type":"rect","fill":"#ffe3c7","stroke":"#ffa95e","strokeWidth":1,"clip":true},"encoding":{"x2":{"field":"i2"},"y":{"field":"p","type":"quantitative"},"y2":{"field":"p2"}}},
{"data":{"values":[{"i":124.7,"p":592.85,"t":"592.850"}]},"mark":{"type":"text","fontSize":13,"color":"#ee1414","align":"left","baseline":"middle","clip":true},"encoding":{"y":{"field":"p","type":"quantitative"},"text":{"field":"t"}}},
{"data":{"values":[{"i":117,"p":629.5,"t":"前復權"}]},"mark":{"type":"text","font":"Noto Sans CJK TC","fontSize":13,"color":"#2f8cf0","align":"left","baseline":"middle","clip":true},"encoding":{"y":{"field":"p","type":"quantitative"},"text":{"field":"t"}}},
{"data":{"values":[{"i":121.2,"i2":121.5,"p":630.2,"p2":628.9},{"i":121.75,"i2":121.5,"p":630.2,"p2":628.9}]},"mark":{"type":"rule","color":"#555e68","strokeWidth":1.5,"clip":true},"encoding":{"x2":{"field":"i2"},"y":{"field":"p","type":"quantitative"},"y2":{"field":"p2"}}},
{"data":{"values":[{"i":122.45,"i2":123.4,"p":627.5,"p2":627.5},{"i":122.45,"i2":122.45,"p":627.5,"p2":631.5}]},"mark":{"type":"rule","color":"#2f8cf0","strokeWidth":1.2,"clip":true},"encoding":{"x2":{"field":"i2"},"y":{"field":"p","type":"quantitative"},"y2":{"field":"p2"}}},
{"data":{"values":[{"i":122.95,"p":629.9,"t":"XY"}]},"mark":{"type":"text","fontSize":7,"color":"#2f8cf0","align":"center","baseline":"middle","clip":true},"encoding":{"y":{"field":"p","type":"quantitative"},"text":{"field":"t"}}},
{"data":{"values":[{"i":124.7,"p":629.9},{"i":126.5,"p":629.9},{"i":128.4,"p":629.9}]},"mark":{"type":"point","shape":"circle","filled":true,"size":154,"color":"#6a7885","opacity":1,"clip":true},"encoding":{"y":{"field":"p","type":"quantitative"}}},
{"data":{"values":[{"i":124.7,"p":629.9,"t":"="},{"i":126.5,"p":629.9,"t":"−"},{"i":128.4,"p":629.9,"t":"+"}]},"mark":{"type":"text","fontSize":14,"fontWeight":"bold","color":"#ffffff","align":"center","baseline":"middle","clip":true},"encoding":{"y":{"field":"p","type":"quantitative"},"text":{"field":"t"}}},
{"data":{"values":[{"i":128.2,"p":638}]},"mark":{"type":"point","shape":"diamond","filled":true,"size":80,"color":"#2f8cf0","opacity":1,"clip":true},"encoding":{"y":{"field":"p","type":"quantitative"}}}
]},
{"width":1600,"height":186,
"encoding":{"x":{"field":"i","type":"quantitative","scale":{"domain":[-0.6504,129.43],"nice":false,"zero":false,"padding":0},"axis":{"values":[20,40,59,80,101,122,124],"grid":true,"gridColor":"#eff1f2","gridWidth":1,"labels":false,"ticks":false,"domain":false,"title":null}}},
"resolve":{"scale":{"color":"independent"}},
"layer":[
{"data":{"values":[{"i":-0.65,"i2":124,"v":26629},{"i":-0.65,"i2":124,"v":22191},{"i":-0.65,"i2":124,"v":17752},{"i":-0.65,"i2":124,"v":13314},{"i":-0.65,"i2":124,"v":8876},{"i":-0.65,"i2":124,"v":4438}]},"mark":{"type":"rule","color":"#eff1f2","strokeWidth":1.2,"clip":true},"encoding":{"x2":{"field":"i2"},"y":{"field":"v","type":"quantitative","scale":{"domain":[-1759,27983],"nice":false,"zero":false},"axis":{"orient":"right","offset":-59,"title":null,"grid":false,"ticks":false,"domain":false,"tickCount":10,"values":[4438,8876,13314,17752,22191,26629],"labelExpr":"datum.value>=10000?format(datum.value/10000,'.4f')+'萬':format(datum.value,'d')","labelOverlap":false,"labelPadding":0,"labelAlign":"left","labelFontSize":13,"labelColor":"#5c6670"}}}},
{"data":{"values":[{"i":-0.6504,"i2":129.43,"v":0,"v2":-1759}]},"mark":{"type":"rect","color":"#f6f8f8","clip":true},"encoding":{"x2":{"field":"i2"},"y":{"field":"v","type":"quantitative"},"y2":{"field":"v2"}}},
{"data":{"name":"candles"},"mark":{"type":"bar","size":9.5,"orient":"vertical","clip":true},"encoding":{"y":{"field":"volume","type":"quantitative"},"y2":{"datum":0},"color":{"field":"dir","type":"nominal","scale":{"domain":["G","R"],"range":["#149905","#ee1414"]},"legend":null}}},
{"data":{"name":"volma"},"mark":{"type":"line","strokeWidth":2,"clip":true},"encoding":{"y":{"field":"v","type":"quantitative"},"color":{"field":"s","type":"nominal","scale":{"domain":["blue","pink"],"range":["#1484ee","#ee6fdc"]},"legend":null},"order":{"field":"i"}}},
{"data":{"values":[{"i":94,"v":12900,"v2":10600}]},"mark":{"type":"rule","color":"#3f8f0f","strokeWidth":3.5,"clip":true},"encoding":{"y":{"field":"v","type":"quantitative"},"y2":{"field":"v2"}}},
{"data":{"values":[{"i":94,"v":10400}]},"mark":{"type":"point","shape":"triangle-down","filled":true,"size":130,"color":"#3f8f0f","opacity":1,"clip":true},"encoding":{"y":{"field":"v","type":"quantitative"}}},
{"data":{"values":[{"i":124.6,"v":1350,"t":"萬股"}]},"mark":{"type":"text","font":"Noto Sans CJK TC","fontSize":13,"color":"#5c6670","align":"left","baseline":"middle","clip":true},"encoding":{"y":{"field":"v","type":"quantitative"},"text":{"field":"t"}}}
]}
]}
